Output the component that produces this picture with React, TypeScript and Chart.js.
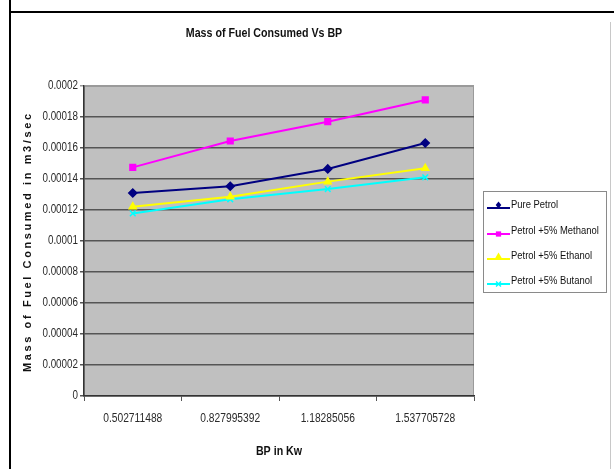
import React, { useEffect, useRef } from "react";
import { Chart, registerables } from "chart.js";

Chart.register(...registerables);

const categories = ["0.502711488", "0.827995392", "1.18285056", "1.537705728"];
const purePetrol = [0.000131, 0.0001353, 0.0001465, 0.0001632];
const petrolMethanol = [0.0001475, 0.0001645, 0.000177, 0.000191];
const petrolEthanol = [0.0001221, 0.0001286, 0.0001383, 0.0001469];
const petrolButanol = [0.0001178, 0.0001269, 0.0001335, 0.0001411];
const seriesNames = ["Pure Petrol", "Petrol +5% Methanol", "Petrol +5% Ethanol", "Petrol +5% Butanol"];
const yTickValues = [0, 0.00002, 0.00004, 0.00006, 0.00008, 0.0001, 0.00012, 0.00014, 0.00016, 0.00018, 0.0002];
const yTickLabels = ["0", "0.00002", "0.00004", "0.00006", "0.00008", "0.0001", "0.00012", "0.00014", "0.00016", "0.00018", "0.0002"];

const titleText = "Mass of Fuel Consumed Vs BP";
const yTitleText = "Mass of Fuel Consumed in m3/sec";
const xTitleText = "BP in Kw";

const FAMILY = '"Liberation Sans", Arial, sans-serif';
const NARROW = 0.82;

function narrowText(
  ctx: CanvasRenderingContext2D,
  text: string,
  x: number,
  y: number,
  font: string,
  align: CanvasTextAlign,
  color: string,
  sx = NARROW
) {
  ctx.save();
  ctx.font = font;
  ctx.fillStyle = color;
  ctx.textAlign = align;
  ctx.textBaseline = "middle";
  ctx.translate(x, y);
  ctx.scale(sx, 1);
  ctx.fillText(text, 0, 0);
  ctx.restore();
}

function drawMarker(ctx: CanvasRenderingContext2D, style: string, x: number, y: number, r: number, color: string) {
  ctx.save();
  ctx.fillStyle = color;
  ctx.strokeStyle = color;
  ctx.lineWidth = 1.5;
  ctx.beginPath();
  if (style === "rectRot") {
    ctx.moveTo(x, y - r);
    ctx.lineTo(x + r * 0.8, y);
    ctx.lineTo(x, y + r);
    ctx.lineTo(x - r * 0.8, y);
    ctx.closePath();
    ctx.fill();
  } else if (style === "rect") {
    ctx.rect(x - r * 0.75, y - r * 0.75, r * 1.5, r * 1.5);
    ctx.fill();
  } else if (style === "triangle") {
    ctx.moveTo(x, y - r);
    ctx.lineTo(x + r, y + r * 0.7);
    ctx.lineTo(x - r, y + r * 0.7);
    ctx.closePath();
    ctx.fill();
  } else {
    ctx.moveTo(x - r * 0.7, y - r * 0.7);
    ctx.lineTo(x + r * 0.7, y + r * 0.7);
    ctx.moveTo(x + r * 0.7, y - r * 0.7);
    ctx.lineTo(x - r * 0.7, y + r * 0.7);
    ctx.stroke();
  }
  ctx.restore();
}

const decor = {
  id: "decor",
  beforeDraw(chart: any) {
    const { ctx, chartArea: a } = chart;
    ctx.save();
    ctx.fillStyle = "#C0C0C0";
    ctx.fillRect(a.left, a.top, a.right - a.left, a.bottom - a.top);
    ctx.strokeStyle = "#9a9a9a";
    ctx.lineWidth = 1;
    ctx.strokeRect(a.left + 0.5, a.top + 0.5, a.right - a.left - 1, a.bottom - a.top - 1);
    ctx.restore();
  },
  afterDraw(chart: any) {
    const { ctx, chartArea: a } = chart;
    const xs = chart.scales.x;
    const ys = chart.scales.y;
    ctx.save();
    // Title
    narrowText(ctx, titleText, 264, 33, `bold 13px ${FAMILY}`, "center", "#111");

    // Tick labels (positions from the library's scales)
    yTickValues.forEach((v, i) => {
      narrowText(ctx, yTickLabels[i], 78, ys.getPixelForValue(v), `12px ${FAMILY}`, "right", "#2a2a2a");
    });
    categories.forEach((c, i) => {
      narrowText(ctx, c, xs.getPixelForValue(i), 419, `12.5px ${FAMILY}`, "center", "#2a2a2a");
    });

    // X title
    narrowText(ctx, xTitleText, (a.left + a.right) / 2, 451, `bold 13px ${FAMILY}`, "center", "#111");

    // Y title (spaced)
    ctx.save();
    ctx.translate(28, (a.top + a.bottom) / 2 + 2);
    ctx.rotate(-Math.PI / 2);
    ctx.font = `bold 11px ${FAMILY}`;
    ctx.fillStyle = "#111";
    ctx.textAlign = "center";
    ctx.textBaseline = "middle";
    const target = 258;
    const natural = ctx.measureText(yTitleText).width;
    const spacing = Math.max(0, (target - natural) / (yTitleText.length - 1));
    (ctx as any).letterSpacing = `${spacing.toFixed(2)}px`;
    ctx.fillText(yTitleText, spacing / 2, 0);
    ctx.restore();

    // Legend
    const lx = 483, ly = 191, lw = 124, lh = 102;
    ctx.fillStyle = "#ffffff";
    ctx.fillRect(lx, ly, lw, lh);
    ctx.strokeStyle = "#8a8a8a";
    ctx.lineWidth = 1;
    ctx.strokeRect(lx + 0.5, ly + 0.5, lw - 1, lh - 1);
    const rows = [205, 231, 256, 281];
    chart.data.datasets.forEach((ds: any, i: number) => {
      const y = rows[i];
      ctx.strokeStyle = ds.borderColor;
      ctx.lineWidth = 2;
      ctx.beginPath();
      ctx.moveTo(487, y + 3);
      ctx.lineTo(510, y + 3);
      ctx.stroke();
      drawMarker(ctx, ds.pointStyle, 498.5, y + 3 - (i === 0 || i === 2 ? 3 : 0), 3.5, ds.borderColor);
      narrowText(ctx, ds.label, 511, y, `11.5px ${FAMILY}`, "left", "#111");
    });
    ctx.restore();
  },
};

export default function App() {
  const ref = useRef<HTMLCanvasElement | null>(null);

  useEffect(() => {
    if (!ref.current) return;
    const mk = (label: string, data: number[], color: string, pointStyle: string) => ({
      label,
      data,
      borderColor: color,
      backgroundColor: color,
      pointBackgroundColor: color,
      pointBorderColor: color,
      pointStyle,
      pointRadius: 4,
      pointBorderWidth: 1.5,
      borderWidth: 2,
      tension: 0,
    });
    const chart = new Chart(ref.current, {
      type: "line",
      data: {
        labels: categories,
        datasets: [
          mk(seriesNames[0], purePetrol, "#000080", "rectRot"),
          mk(seriesNames[1], petrolMethanol, "#FF00FF", "rect"),
          mk(seriesNames[2], petrolEthanol, "#FFFF00", "triangle"),
          mk(seriesNames[3], petrolButanol, "#00FFFF", "crossRot"),
        ],
      },
      options: {
        animation: false,
        responsive: false,
        devicePixelRatio: 1,
        layout: { padding: { left: 20, right: 140, top: 86, bottom: 0 } },
        plugins: {
          legend: { display: false },
          title: { display: false },
          tooltip: { enabled: false },
        },
        scales: {
          x: {
            type: "category",
            offset: true,
            grid: {
              offset: true,
              drawOnChartArea: false,
              drawTicks: true,
              tickLength: 5,
              color: "#555",
              lineWidth: 1,
            },
            border: { display: true, color: "#333", width: 1.5 },
            ticks: { display: false, autoSkip: false },
            afterFit: (s: any) => {
              s.height = 73;
            },
          },
          y: {
            min: 0,
            max: 0.0002,
            ticks: { display: false, stepSize: 0.00002 },
            grid: {
              color: (c: any) => (c.tick && c.tick.value >= 0.0002 ? "#9a9a9a" : "#555"),
              lineWidth: 1.5,
              tickLength: 4,
              drawTicks: true,
            },
            border: { display: true, color: "#333", width: 1.5 },
            afterFit: (s: any) => {
              s.width = 64;
            },
          },
        },
      } as any,
      plugins: [decor],
    });
    return () => chart.destroy();
  }, []);

  return (
    <div style={{ position: "fixed", left: 0, top: 0, width: 614, height: 469, background: "#fff", overflow: "hidden" }}>
      <canvas ref={ref} width={614} height={469} style={{ position: "absolute", left: 0, top: 0, width: 614, height: 469 }} />
      <div style={{ position: "absolute", left: 9, top: 0, width: 2, height: 469, background: "#000" }} />
      <div style={{ position: "absolute", left: 10, top: 11, width: 604, height: 2, background: "#000" }} />
      <div style={{ position: "absolute", left: 610, top: 22, width: 1, height: 447, background: "#c8c8c8" }} />
    </div>
  );
}
